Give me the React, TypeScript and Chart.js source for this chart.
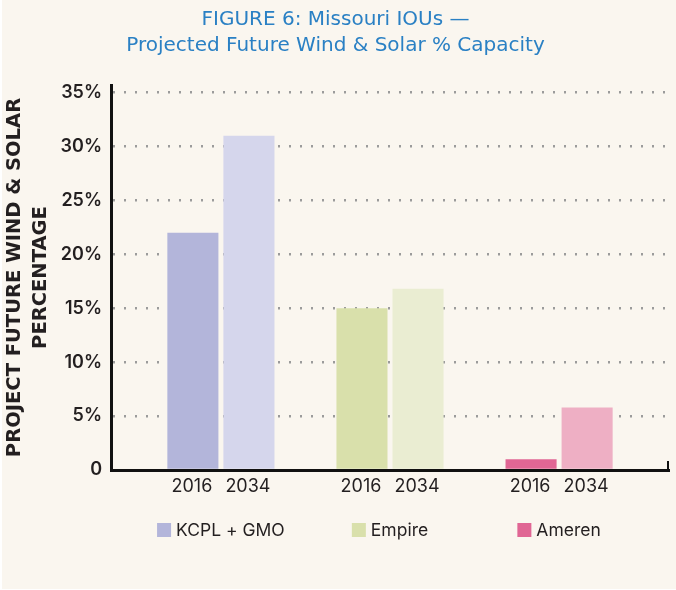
import React, { useEffect, useRef } from 'react';
import { Chart, registerables } from 'chart.js';

Chart.register(...registerables);

const companies = ['KCPL + GMO', 'Empire', 'Ameren'];
const years = ['2016', '2034'];
const values2016 = [22, 15, 1];
const values2034 = [31, 16.8, 5.8];
const yTicks = [0, 5, 10, 15, 20, 25, 30, 35];
const colors2016 = ['#b3b5da', '#d9e0ab', '#e06694'];
const colors2034 = ['#d5d6ec', '#eaedd2', '#eeafc4'];
const titleLines = ['FIGURE 6: Missouri IOUs \u2014', 'Projected Future Wind & Solar % Capacity'];
const yTitleLines = ['PROJECT FUTURE WIND & SOLAR', 'PERCENTAGE'];

const CREAM = '#faf6ef';
const TEXT = '#231f20';
const BLUE = '#2a80c4';
const FONT = 'Inter, "Open Sans", sans-serif';
const WIDE = '"DejaVu Sans", Inter, sans-serif';

const overlay = {
  id: 'overlay',
  afterDatasetsDraw(chart: any) {
    const ctx = chart.ctx;
    const area = chart.chartArea;
    ctx.save();
    // year labels under each bar
    ctx.font = `18px ${FONT}`;
    ctx.fillStyle = TEXT;
    ctx.textAlign = 'center';
    ctx.textBaseline = 'middle';
    chart.data.datasets.forEach((ds: any, di: number) => {
      const meta = chart.getDatasetMeta(di);
      meta.data.forEach((bar: any) => {
        ctx.fillText(ds.label, bar.x - 1, area.bottom + 17);
      });
    });
    // small tick at the right end of the x axis
    ctx.strokeStyle = '#111';
    ctx.lineWidth = 2;
    ctx.beginPath();
    ctx.moveTo(area.right - 1, area.bottom - 9);
    ctx.lineTo(area.right - 1, area.bottom + 1.5);
    ctx.stroke();
    // legend centred under each group
    const xs = chart.scales.x;
    ctx.font = `17.5px ${FONT}`;
    ctx.textAlign = 'left';
    companies.forEach((name, i) => {
      const cx = xs.getPixelForValue(i);
      const tw = ctx.measureText(name).width;
      const box = 14;
      const gap = 5;
      const x0 = cx - (box + gap + tw) / 2;
      const y = area.bottom + 60;
      ctx.fillStyle = colors2016[i];
      ctx.fillRect(x0, y - 7, box, box);
      ctx.fillStyle = TEXT;
      ctx.fillText(name, x0 + box + gap, y + 1);
    });
    ctx.restore();
  },
};

export default function App() {
  const ref = useRef<HTMLCanvasElement>(null);
  useEffect(() => {
    if (!ref.current) return;
    const chart = new Chart(ref.current, {
      type: 'bar',
      data: {
        datasets: [
          {
            label: years[0],
            data: values2016.map((v, i) => ({ x: i, y: v })),
            backgroundColor: colors2016,
            borderWidth: 0,
          },
          {
            label: years[1],
            data: values2034.map((v, i) => ({ x: i, y: v })),
            backgroundColor: colors2034,
            borderWidth: 0,
          },
        ],
      },
      options: {
        animation: false,
        responsive: true,
        maintainAspectRatio: false,
        devicePixelRatio: 1,
        categoryPercentage: 0.663,
        barPercentage: 0.911,
        layout: { padding: { left: 0, right: 7, top: 0, bottom: 119 } },
        plugins: {
          legend: { display: false },
          tooltip: { enabled: false },
          title: {
            display: true,
            text: titleLines,
            color: BLUE,
            font: { family: WIDE, size: 20, weight: 'normal', lineHeight: '26px' },
            padding: { top: 7, bottom: 26 },
          },
        },
        scales: {
          x: {
            type: 'linear',
            offset: false,
            min: -0.65,
            max: 2.65,
            afterBuildTicks: (s: any) => {
              s.ticks = companies.map((_, i) => ({ value: i }));
            },
            ticks: { display: false },
            grid: { display: false, drawTicks: false, offset: false },
            border: { display: true, color: '#111', width: 3 },
          },
          y: {
            min: 0,
            max: 35.7,
            afterBuildTicks: (s: any) => {
              s.ticks = yTicks.map((v) => ({ value: v }));
            },
            afterFit: (s: any) => {
              s.width = 109;
            },
            ticks: {
              padding: 9,
              color: TEXT,
              font: { family: FONT, size: 18, weight: '600' },
              callback: (v: any) => (Number(v) === 0 ? '0' : v + '%'),
            },
            grid: { color: '#9b9b9b', lineWidth: 2.5, drawTicks: false },
            border: { display: true, color: '#111', width: 3, dash: [2, 9] },
            title: {
              display: true,
              text: yTitleLines,
              color: TEXT,
              font: { family: WIDE, size: 19.5, weight: 'bold', lineHeight: '26px' },
              padding: { top: 0, bottom: 0 },
            },
          },
        },
      },
      plugins: [overlay],
    } as any);
    return () => chart.destroy();
  }, []);

  return (
    <div style={{ position: 'absolute', left: 0, top: 0, width: 676, height: 590, background: '#ffffff' }}>
      <div style={{ position: 'absolute', left: 2, top: 0, width: 674, height: 589, background: CREAM }}>
        <canvas ref={ref} />
      </div>
    </div>
  );
}
